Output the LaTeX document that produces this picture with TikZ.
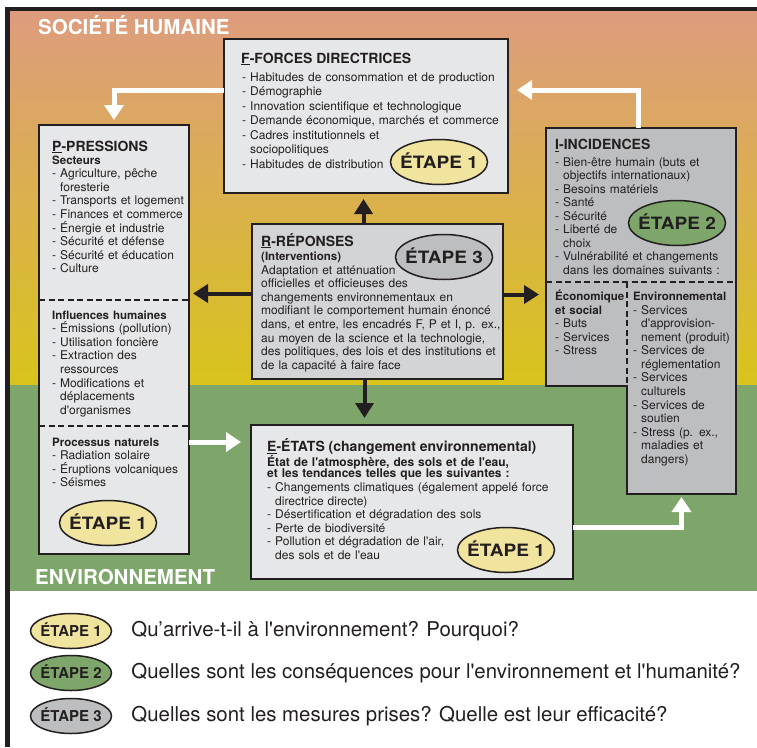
\documentclass[tikz,border=0pt]{standalone}
\usepackage{fontspec}
\setmainfont{TeX Gyre Heros}[Ligatures=TeXOff]
\usepackage{tikz}
\usetikzlibrary{positioning, arrows.meta, shapes.geometric}

\definecolor{socTop}{HTML}{DD9C7E}
\definecolor{socMid}{HTML}{DBAE62}
\definecolor{socBot}{HTML}{D8C41C}
\definecolor{envGreen}{HTML}{7EA66B}
\definecolor{boxLight}{HTML}{E6E7E8}
\definecolor{boxMid}{HTML}{D3D4D6}
\definecolor{boxDark}{HTML}{BCBEC0}
\definecolor{etYellow}{HTML}{F1E49E}
\definecolor{etGreen}{HTML}{7EA66B}
\definecolor{etGray}{HTML}{BCBEC0}
\definecolor{inkDark}{HTML}{231F20}

\newcommand\etq[1]{\makebox[0pt]{\scalebox{1.12}[1]{#1}}}
\newcommand\dashind{\phantom{- }}
\newcommand\hd[1]{{\fontsize{11.5}{13.6}\selectfont\bfseries #1}}

\begin{document}
\begin{tikzpicture}[x=1pt, y=-1pt,
  box/.style={rectangle, anchor=north west, inner sep=0pt, outer sep=0pt, draw=inkDark, line width=1.5pt},
  edge/.style={draw=inkDark, line width=1.5pt},
  divider/.style={draw=inkDark, line width=1.5pt, dash pattern=on 6pt off 3.5pt},
  headtxt/.style={anchor=base west, inner sep=0pt, text=inkDark, font=\fontsize{14}{16}\selectfont\bfseries},
  bodytxt/.style={anchor=base west, inner sep=0pt, text=inkDark, align=left, text width=#1, font=\fontsize{12}{13.6}\selectfont},
  bodytxt/.default=150pt,
  zonetxt/.style={anchor=base west, inner sep=0pt, text=white, font=\fontsize{20.5}{22}\selectfont\bfseries},
  etape/.style={ellipse, draw=inkDark, line width=1.5pt, minimum width=97pt, minimum height=45pt, inner sep=0pt, text height=12.2pt, text depth=0pt, text=inkDark, font=\fontsize{17}{17}\selectfont\bfseries},
  etsmall/.style={etape, minimum width=81pt, minimum height=35pt, text height=10.8pt, font=\fontsize{15}{15}\selectfont\bfseries},
  legtxt/.style={inner sep=0pt, anchor=west, text=inkDark, font=\fontsize{20.4}{22}\selectfont},
  warrow/.style={draw=white, line width=5pt, -{Triangle[width=19pt,length=15pt]}},
  barrow/.style={draw=inkDark, line width=4pt, -{Triangle[width=18pt,length=15pt]}}
]
\useasboundingbox (0,0) rectangle (757,747);

% background zones and frame
\shade[top color=socTop, middle color=socMid, bottom color=socBot] (10,11) rectangle (757,385);
\fill[envGreen] (10,385) rectangle (757,591);
\fill[inkDark] (5,7) rectangle (757,11);
\fill[inkDark] (5,7) rectangle (10,747);
\node[zonetxt] (soc) at (38,34.5) {SOCIÉTÉ HUMAINE};
\node[zonetxt] (env) at (35,584) {ENVIRONNEMENT};

% boxes
\node[box, fill=boxLight, minimum width=284pt, minimum height=154pt] (F) at (224,39) {};
\node[box, fill=boxLight, minimum width=150pt, minimum height=429pt] (P) at (39,125) {};
\node[box, fill=boxMid, minimum width=251pt, minimum height=155pt] (R) at (252,224) {};
\node[box, fill=boxLight, minimum width=322pt, minimum height=154pt] (E) at (251,425) {};
\node[box, fill=boxDark, draw=none, minimum width=190pt, minimum height=258pt] (I) at (546,128) {};
\node[box, fill=boxDark, draw=none, minimum width=109pt, minimum height=212pt] (Env) at (627,282) {};
\draw[edge] (I.north west) -- (I.north east) -- (Env.south east) -- (Env.south west)
  -- (Env.west |- I.south) -- (I.south west) -- cycle;
\draw[divider] (I.west |- Env.north) -- (Env.north east);
\draw[divider] (Env.north west) -- (Env.west |- I.south);
\draw[divider] ([yshift=-175]P.north west) -- ([yshift=-175]P.north east);
\draw[divider] ([yshift=-301]P.north west) -- ([yshift=-301]P.north east);

% arrows
\coordinate (Fa) at ([yshift=-51]F.north west);
\coordinate (Fb) at ([yshift=-51]F.north east);
\coordinate (Ea) at ([yshift=-17]E.north west);
\coordinate (Eb) at ([yshift=-25]E.east);
\coordinate (Ra) at ([xshift=-14]R.north);
\coordinate (Rb) at ([xshift=-13]R.south);
\coordinate (Rc) at ([yshift=8]R.west);
\coordinate (Rd) at ([yshift=7]R.east);
\draw[warrow, shorten >=5pt] (Fa) -| (P.north);
\draw[warrow, shorten >=9pt] ([xshift=-3]I.north) |- (Fb);
\draw[warrow, shorten >=10pt] (Ea -| P.east) -- (Ea);
\draw[warrow, shorten >=3pt] (Eb) -| (Env.south);
\draw[barrow, shorten >=6pt] (Ra) -- (Ra |- F.south);
\draw[barrow, shorten >=4pt] (Rc) -- (Rc -| P.east);
\draw[barrow, shorten >=7pt] (Rd) -- (Rd -| I.west);
\draw[barrow, shorten >=7pt] (Rb) -- (Rb |- E.north);

% F
\node[headtxt] (Ft) at (241,63) {\underline{F}-FORCES DIRECTRICES};
\node[bodytxt=270pt, font=\fontsize{12}{14.5}\selectfont] (Fl) at (242,81) {- Habitudes de consommation et de production\\- Démographie\\- Innovation scientifique et technologique\\- Demande économique, marchés et commerce\\- Cadres institutionnels et\\\dashind sociopolitiques\\- Habitudes de distribution};

% P
\node[headtxt] (Pt) at (52,151) {\underline{P}-PRESSIONS};
\node[bodytxt=140pt] (Ps) at (52,164) {\hd{Secteurs}\\- Agriculture, pêche\\\dashind foresterie\\- Transports et logement\\- Finances et commerce\\- Énergie et industrie\\- Sécurité et défense\\- Sécurité et éducation\\- Culture};
\node[bodytxt=140pt] (Ph) at (52,319) {\hd{Influences humaines}\\- Émissions (pollution)\\- Utilisation foncière\\- Extraction des\\\dashind ressources\\- Modifications et\\\dashind déplacements\\\dashind d'organismes};
\node[bodytxt=140pt] (Pn) at (52,446) {\hd{Processus naturels}\\- Radiation solaire\\- Éruptions volcaniques\\- Séismes};

% R
\node[headtxt] (Rt) at (261,246) {\underline{R}-RÉPONSES};
\node[bodytxt=240pt] (Rl) at (261,260.5) {\hd{(Interventions)}\\Adaptation et atténuation\\officielles et officieuses des\\changements environnementaux en\\modifiant le comportement humain énoncé\\dans, et entre, les encadrés F, P et I, p. ex.,\\au moyen de la science et la technologie,\\des politiques, des lois et des institutions et\\de la capacité à faire face};

% I
\node[headtxt] (It) at (555,149.5) {\underline{I}-INCIDENCES};
\node[bodytxt=178pt, font=\fontsize{12}{13.55}\selectfont] (Il) at (555,166) {- Bien-être humain (buts et\\\dashind objectifs internationaux)\\- Besoins matériels\\- Santé\\- Sécurité\\- Liberté de\\\dashind choix\\- Vulnérabilité et changements\\\dashind dans les domaines suivants :};
\node[bodytxt=70pt, font=\fontsize{12}{13.55}\selectfont] (Ie) at (555,300.5) {\hd{Économique}\\\hd{et social}\\- Buts\\- Services\\- Stress};
\node[bodytxt=110pt, font=\fontsize{12}{13.58}\selectfont] (Iv) at (633,300.5) {\hd{Environnemental}\\- Services\\\dashind d'approvision-\\\dashind nement (produit)\\- Services de\\\dashind réglementation\\- Services\\\dashind culturels\\- Services de\\\dashind soutien\\- Stress (p. ex.,\\\dashind maladies et\\\dashind dangers)};

% E
\node[headtxt] (Et) at (267,451.5) {\underline{E}-ÉTATS (changement environnemental)};
\node[bodytxt=300pt, font=\fontsize{12}{11.8}\selectfont\bfseries] (Es) at (267,466) {État de l'atmosphère, des sols et de l'eau,\\et les tendances telles que les suivantes :};
\node[bodytxt=300pt] (El) at (267,491.5) {- Changements climatiques (également appelé force\\\dashind directrice directe)\\- Désertification et dégradation des sols\\- Perte de biodiversité\\- Pollution et dégradation de l'air,\\\dashind des sols et de l'eau};

% stages
\node[etape, fill=etYellow] (eF) at (439,162) {\etq{ÉTAPE 1}};
\node[etape, fill=etGray] (eR) at (444,257) {\etq{ÉTAPE 3}};
\node[etape, fill=etGreen] (eI) at (677,223) {\etq{ÉTAPE 2}};
\node[etape, fill=etYellow] (eP) at (108,523) {\etq{ÉTAPE 1}};
\node[etape, fill=etYellow] (eE) at (506,550) {\etq{ÉTAPE 1}};

% legend
\foreach \n/\c/\y/\q in {1/etYellow/631/{Qu’arrive-t-il à l'environnement? Pourquoi?},
  2/etGreen/673/{Quelles sont les conséquences pour l'environnement et l'humanité?},
  3/etGray/716/{Quelles sont les mesures prises? Quelle est leur efficacité?}}{
  \node[etsmall, fill=\c] (L\n) at (71,\y) {\makebox[0pt]{ÉTAPE \n}};
  \node[legtxt, right=19pt of L\n] (Q\n) {\q};
}
\end{tikzpicture}
\end{document}
